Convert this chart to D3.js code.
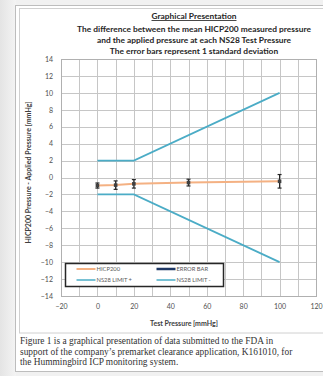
<!DOCTYPE html>
<html>
<head>
<meta charset="utf-8">
<script src="https://cdn.jsdelivr.net/npm/d3@7"></script>
<style>
  body { margin: 0; background: #f1f1f1; }
  svg { display: block; }
</style>
</head>
<body>
<svg id="chart" width="323" height="376"></svg>
<script>
// data
const testPressure = [0, 10, 20, 50, 100];
const meanDiff = [-0.95, -0.9, -0.75, -0.6, -0.45];
const stdDev = [0.3, 0.5, 0.5, 0.4, 0.8];
const limitX = [0, 20, 100];
const limitPlus = [2, 2, 10];
const limitMinus = [-2, -2, -10];
const xTicks = [-20, 0, 20, 40, 60, 80, 100, 120];
const yTicks = [-14, -12, -10, -8, -6, -4, -2, 0, 2, 4, 6, 8, 10, 12, 14];
const titleLines = [
    'The difference between the mean HICP200 measured pressure',
    'and  the applied pressure at each  NS28 Test Pressure',
    'The error bars represent 1 standard deviation'
];
const captionLines = [
    'Figure 1 is a graphical presentation of data submitted to the FDA in',
    'support of the company\u2019s premarket clearance application, K161010, for',
    'the Hummingbird ICP monitoring system.'
];

const colors = { mean: '#f4b183', limit: '#4bacc6', err: '#262626', grid: '#c6c6c6' };

const svg = d3.select('#chart');
const margin = { top: 59, bottom: 80, left: 61, right: 7 };
const width = 323, height = 376;

// page frame
const defs = svg.append('defs');
const grad = defs.append('linearGradient').attr('id', 'shade');
grad.append('stop').attr('offset', '0%').attr('stop-color', '#e4e4e4');
grad.append('stop').attr('offset', '100%').attr('stop-color', '#f4f4f4');
svg.append('rect').attr('x', 0).attr('y', 0).attr('width', 16).attr('height', height)
    .attr('fill', 'url(#shade)');
svg.append('rect').attr('x', 15.5).attr('y', 5.5).attr('width', 320).attr('height', 366)
    .attr('fill', '#fff').attr('stroke', '#bdbdbd');
svg.append('rect').attr('x', 19.5).attr('y', 8.5).attr('width', 320).attr('height', 324.5)
    .attr('fill', '#fff').attr('stroke', '#d0d0d0');

const x = d3.scaleLinear().domain([-20, 120]).range([margin.left, width - margin.right]);
const y = d3.scaleLinear().domain([-14, 14]).range([296, margin.top]);

// grid
const grid = svg.append('g').attr('class', 'grid');
grid.selectAll('.vline')
    .data(d3.range(-20, 121, 10))
    .join('line')
    .attr('x1', d => Math.round(x(d)) + 0.5).attr('x2', d => Math.round(x(d)) + 0.5)
    .attr('y1', y(14)).attr('y2', y(-14))
    .attr('stroke', colors.grid).attr('stroke-width', 1);
grid.selectAll('.hline')
    .data(yTicks)
    .join('line')
    .attr('y1', d => Math.round(y(d)) + 0.5).attr('y2', d => Math.round(y(d)) + 0.5)
    .attr('x1', x(-20)).attr('x2', x(120))
    .attr('stroke', colors.grid).attr('stroke-width', 1);
svg.append('rect')
    .attr('x', x(-20) + 0.5).attr('y', y(14) + 0.5)
    .attr('width', x(120) - x(-20)).attr('height', y(-14) - y(14))
    .attr('fill', 'none').attr('stroke', '#b0b0b0');

// axes
const tickFont = 'Lato, "Open Sans", sans-serif';
const xAxis = svg.append('g')
    .attr('transform', `translate(0, ${y(-14) + 5})`)
    .call(d3.axisBottom(x).tickValues(xTicks).tickSize(0).tickPadding(3));
xAxis.select('.domain').remove();
xAxis.selectAll('text').attr('fill', '#505050').style('font', `7px ${tickFont}`);

const yAxis = svg.append('g')
    .attr('transform', `translate(${x(-20) - 7}, 0)`)
    .call(d3.axisLeft(y).tickValues(yTicks).tickSize(0).tickPadding(1));
yAxis.select('.domain').remove();
yAxis.selectAll('text').attr('fill', '#505050').style('font', `7px ${tickFont}`);

// limit lines
const line = d3.line().x(d => x(d[0])).y(d => y(d[1]));
[limitPlus, limitMinus].forEach(vals => {
    svg.append('path')
        .datum(limitX.map((v, i) => [v, vals[i]]))
        .attr('d', line)
        .attr('fill', 'none')
        .attr('stroke', colors.limit)
        .attr('stroke-width', 1.7);
});

// mean line
svg.append('path')
    .datum(testPressure.map((v, i) => [v, meanDiff[i]]))
    .attr('d', line)
    .attr('fill', 'none')
    .attr('stroke', colors.mean)
    .attr('stroke-width', 2);

// error bars
const bars = svg.append('g').attr('class', 'err');
testPressure.forEach((p, i) => {
    const cx = x(p), lo = y(meanDiff[i] - stdDev[i]), hi = y(meanDiff[i] + stdDev[i]);
    bars.append('line').attr('x1', cx).attr('x2', cx).attr('y1', lo).attr('y2', hi)
        .attr('stroke', colors.err).attr('stroke-width', 1.2);
    [lo, hi].forEach(v => bars.append('line')
        .attr('x1', cx - 2).attr('x2', cx + 2).attr('y1', v).attr('y2', v)
        .attr('stroke', colors.err).attr('stroke-width', 1.2));
    bars.append('rect')
        .attr('x', cx - 1.8).attr('y', y(meanDiff[i]) - 1.8)
        .attr('width', 3.6).attr('height', 3.6)
        .attr('fill', '#404040');
});

// legend
const legend = svg.append('g').attr('transform', 'translate(65.5, 263.5)');
legend.append('rect').attr('width', 158).attr('height', 23)
    .attr('fill', '#fff').attr('stroke', '#262626').attr('stroke-width', 1.5);
const legendItems = [
    { label: 'HICP200', color: colors.mean, col: 0, row: 0, w: 2 },
    { label: 'ERROR BAR', color: '#1f3864', col: 1, row: 0, w: 2.5 },
    { label: 'NS28 LIMIT +', color: colors.limit, col: 0, row: 1, w: 1.5 },
    { label: 'NS28 LIMIT -', color: colors.limit, col: 1, row: 1, w: 1.5 }
];
legendItems.forEach(d => {
    const gx = 11 + d.col * 80, gy = 5.5 + d.row * 11;
    legend.append('line').attr('x1', gx).attr('x2', gx + 19).attr('y1', gy).attr('y2', gy)
        .attr('stroke', d.color).attr('stroke-width', d.w);
    legend.append('text').attr('x', gx + 20).attr('y', gy + 2)
        .attr('fill', '#595959').style('font', `5.8px ${tickFont}`).text(d.label);
});

// titles
const title = svg.append('g').attr('text-anchor', 'middle')
    .style('font', `bold 8.4px ${tickFont}`).attr('fill', '#262626');
title.append('text').attr('x', 194).attr('y', 19).text('Graphical Presentation')
    .attr('text-decoration', 'underline');
titleLines.forEach((t, i) => title.append('text').attr('x', 194).attr('y', 32 + i * 11).text(t));

svg.append('text')
    .attr('transform', `translate(31, ${y(0) - 5}) rotate(-90)`)
    .attr('text-anchor', 'middle')
    .style('font', `bold 7px ${tickFont}`).attr('fill', '#404040')
    .text('HICP200 Pressure - Applied Pressure [mmHg]');

svg.append('text')
    .attr('x', 184).attr('y', 326)
    .attr('text-anchor', 'middle')
    .style('font', `bold 7px ${tickFont}`).attr('fill', '#404040')
    .text('Test Pressure [mmHg]');

// caption
captionLines.forEach((t, i) => svg.append('text')
    .attr('x', 20).attr('y', 344 + i * 10.5)
    .style('font', '9.4px "Liberation Serif", "DejaVu Serif", serif')
    .attr('fill', '#333').text(t));
</script>
</body>
</html>
